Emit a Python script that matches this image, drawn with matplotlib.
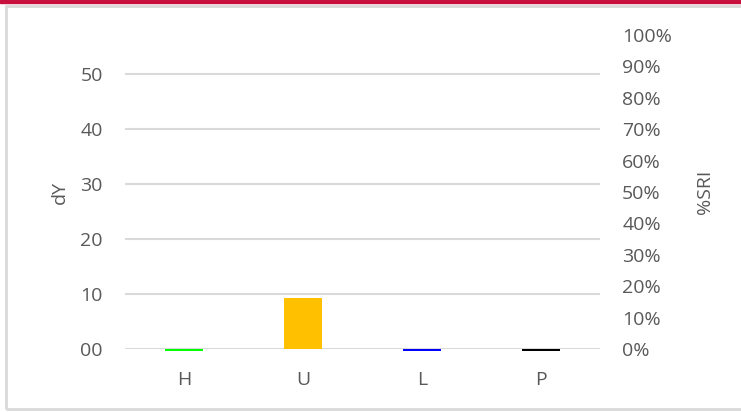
import matplotlib.pyplot as plt
from matplotlib.patches import Rectangle
from matplotlib.ticker import FuncFormatter

categories = ["H", "U", "L", "P"]
dy_values = [-0.3, 9.3, -0.3, -0.3]
bar_colors = ["#00ff00", "#ffc000", "#0000ff", "#000000"]
left_ticks = [0, 10, 20, 30, 40, 50]
right_ticks = [0, 0.1, 0.2, 0.3, 0.4, 0.5, 0.6, 0.7, 0.8, 0.9, 1.0]

plt.rcParams['font.family'] = ['Open Sans', 'DejaVu Sans']
txt = '#595959'

fig = plt.figure(figsize=(7.41, 4.12), dpi=100)
# top red strip and the light grey chart border
fig.patches.append(Rectangle((0, 1 - 2.5/412), 1, 2.5/412, transform=fig.transFigure,
                             color='#c8103c', zorder=0))
fig.patches.append(Rectangle((5.5/741, 3/412), 1.2, 1 - 9/412, transform=fig.transFigure,
                             fill=False, edgecolor='#d9d9d9', lw=2, zorder=0))

ax = fig.add_axes([125/741, 1 - 349/412, 475/741, (349 - 35)/412])
x = range(len(categories))
bars = ax.bar(x, dy_values, width=0.32, color=bar_colors, zorder=3)
for b in bars:
    b.set_clip_on(False)
ax.set_xlim(-0.5, 3.5)
ax.set_ylim(0, 57.09)
ax.set_yticks(left_ticks)
ax.yaxis.set_major_formatter(FuncFormatter(lambda v, p: '%02d' % v))
ax.grid(axis='y', color='#d9d9d9', lw=1.5, zorder=0)
ax.set_xticks(list(x))
ax.set_xticklabels(categories)
for s in ax.spines.values():
    s.set_visible(False)
ax.tick_params(length=0, labelsize=14, colors=txt, pad=16)
ax.tick_params(axis='x', pad=16)
ax.set_ylabel('dY', fontsize=14, color=txt, labelpad=8)

ax2 = ax.twinx()
ax2.set_ylim(0, 1)
ax2.set_yticks(right_ticks)
ax2.yaxis.set_major_formatter(FuncFormatter(lambda v, p: '%d%%' % round(v * 100)))
for s in ax2.spines.values():
    s.set_visible(False)
ax2.tick_params(length=0, labelsize=14, colors=txt, pad=16)
ax2.set_ylabel('%SRI', fontsize=14, color=txt, labelpad=17)

plt.savefig('out.png', dpi=100)
